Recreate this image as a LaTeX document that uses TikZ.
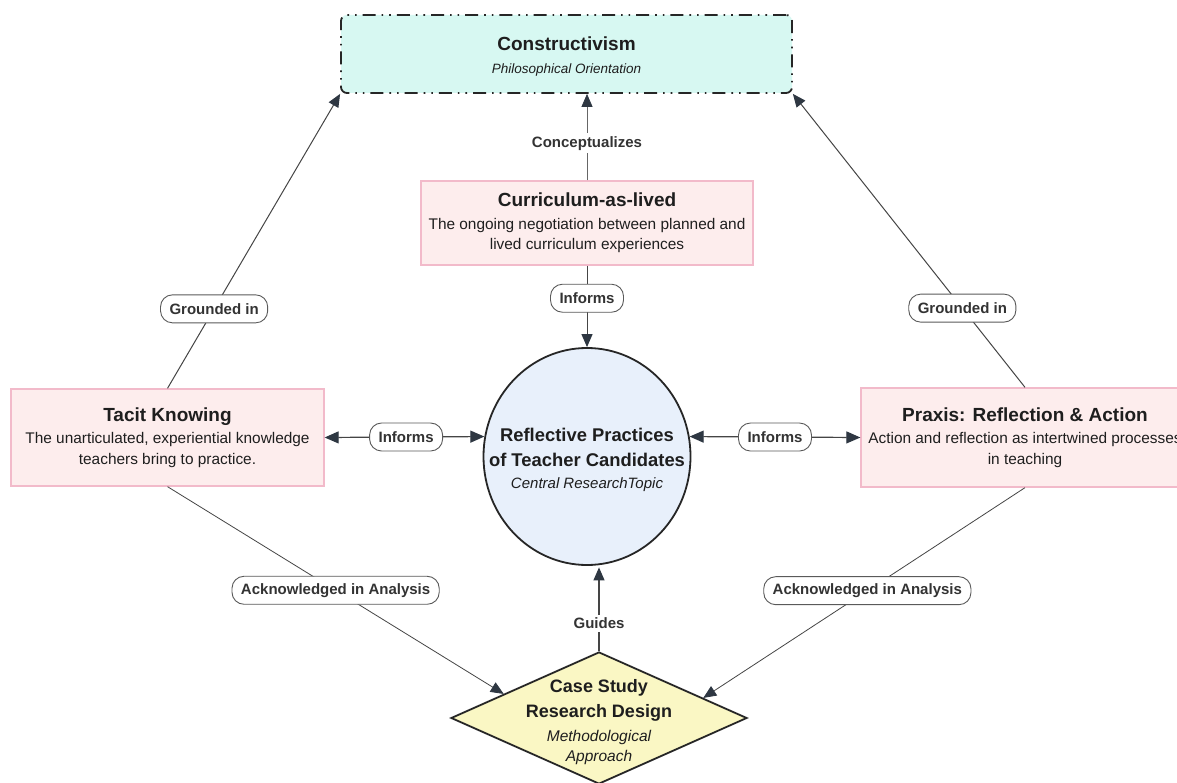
\documentclass[tikz,border=0pt]{standalone}
\usepackage{fontspec}
\setmainfont{Liberation Sans}
\usetikzlibrary{shapes.geometric,arrows.meta,calc}

\definecolor{mintfill}{HTML}{D7F8F2}
\definecolor{pinkfill}{HTML}{FDEDED}
\definecolor{pinkline}{HTML}{F2BACA}
\definecolor{bluefill}{HTML}{E8F0FB}
\definecolor{yellowfill}{HTML}{FAF7C4}
\definecolor{darkline}{HTML}{262626}
\definecolor{connline}{HTML}{454545}
\definecolor{headcol}{HTML}{2E3742}
\definecolor{labline}{HTML}{5A5A5A}
\definecolor{labtext}{HTML}{333333}
\definecolor{bodytext}{HTML}{1E1E1E}

\newcommand{\mytitlefont}{\fontsize{19}{23}\selectfont\bfseries}
\newcommand{\mybodyfont}{\fontsize{15.4}{20.5}\selectfont}
\newcommand{\mysubfont}{\fontsize{13.5}{17}\selectfont\itshape}

\tikzset{
  conceptbox/.style={draw=pinkline, line width=1.3pt, fill=pinkfill,
    align=center, text=bodytext, inner sep=0pt, font=\mybodyfont},
  pill/.style={draw=labline, line width=0.9pt, fill=white, rounded corners=12pt,
    font=\bfseries\fontsize{15}{18}\selectfont, text=labtext,
    inner xsep=9pt, inner ysep=0pt, minimum height=28pt},
  plainlab/.style={fill=white, font=\bfseries\fontsize{15}{18}\selectfont,
    text=labtext, inner xsep=2pt, inner ysep=3pt},
  conn/.style={draw=connline, line width=1pt,
    -{Triangle[length=13pt,width=11pt,color=headcol]}},
  twoway/.style={draw=connline, line width=1.2pt,
    {Triangle[length=14pt,width=12pt,color=headcol]}-{Triangle[length=14pt,width=12pt,color=headcol]}},
}

\begin{document}
\begin{tikzpicture}[x=1pt,y=-1pt]
\useasboundingbox (0,0) rectangle (1177,783);
\clip (0,0) rectangle (1177,783);
\fill[white] (0,0) rectangle (1177,783);

% philosophical orientation
\node[draw=darkline, line width=1.8pt, fill=mintfill, rounded corners=6pt,
      dash pattern=on 13pt off 6pt on 1.6pt off 6pt on 1.6pt off 6pt,
      minimum width=451pt, minimum height=78pt, inner sep=0pt] (con) at (566.5,54) {};
\node[align=center, text=bodytext, font=\mybodyfont, inner sep=0pt] (context) at (566.5,56.5)
  {{\mytitlefont Constructivism}\\[3pt]{\mysubfont Philosophical Orientation}};

% curriculum
\node[conceptbox, minimum width=332pt, minimum height=84pt] (cur) at (587,223)
  {{\mytitlefont Curriculum-as-lived}\\[2pt]
   The ongoing negotiation between planned and\\ lived curriculum experiences};

% tacit knowing
\node[conceptbox, minimum width=313pt, minimum height=97pt] (tacit) at (167.5,437.5)
  {{\mytitlefont Tacit Knowing}\\[2pt]
   The unarticulated, experiential knowledge\\ teachers bring to practice.};

% praxis
\node[conceptbox, minimum width=328pt, minimum height=99pt] (praxis) at (1025,437.5)
  {{\mytitlefont Praxis: Reflection \& Action}\\[2pt]
   Action and reflection as intertwined processes\\ in teaching};

% central topic
\node[ellipse, draw=darkline, line width=1.8pt, fill=bluefill,
      minimum width=207pt, minimum height=217pt, inner sep=0pt] (circ) at (587,456.5) {};
\node[align=center, text=bodytext, inner sep=0pt,
      font=\fontsize{18.4}{24.5}\selectfont\bfseries] (circtext) at (587,460)
  {Reflective Practices\\ of Teacher Candidates\\[-2pt]
   {\fontsize{15}{19}\selectfont\mdseries\itshape Central ResearchTopic}};

% methodology
\node[diamond, draw=darkline, line width=1.8pt, fill=yellowfill,
      minimum width=296pt, minimum height=132pt, inner sep=0pt] (case) at (599,718) {};
\node[align=center, text=bodytext, inner sep=0pt,
      font=\fontsize{18}{25.5}\selectfont\bfseries] (casetext) at (599,722)
  {Case Study\\ Research Design\\[-2pt]
   {\fontsize{15.5}{21}\selectfont\mdseries\itshape Methodological}\\[-5pt]
   {\fontsize{15.5}{21}\selectfont\mdseries\itshape Approach}};

% connectors
\draw[conn, draw=gray!80!black, line width=0.8pt] (cur.north) -- (con.south -| cur.north)
  node[plainlab, pos=0.43] (lconc) {Conceptualizes};
\draw[conn] (cur.south) -- (circ.north)
  node[pill, pos=0.4] (linf) {Informs};
\draw[twoway] (tacit.east) -- (circ.169)
  node[pill, pos=0.51] (linfl) {Informs};
\draw[twoway] (circ.11) -- (praxis.west)
  node[pill, pos=0.5] (linfr) {Informs};
\draw[conn] (tacit.north) -- (con.south west)
  node[pill, pos=0.27] (lgrl) {Grounded in};
\draw[conn] (praxis.north) -- (con.south east)
  node[pill, pos=0.27] (lgrr) {Grounded in};
\draw[conn, line width=0.8pt] (tacit.south) -- ($(case.west)!0.36!(case.north)$)
  node[pill, pos=0.5] (lackl) {Acknowledged in Analysis};
\draw[conn, line width=0.8pt] (praxis.south) -- ($(case.east)!0.3!(case.north)$)
  node[pill, pos=0.49] (lackr) {Acknowledged in Analysis};
\draw[conn, line width=1.2pt] (case.north) -- ([yshift=-1.5pt]case.north |- circ.south)
  node[plainlab, pos=0.33] (lguide) {Guides};
\end{tikzpicture}
\end{document}
